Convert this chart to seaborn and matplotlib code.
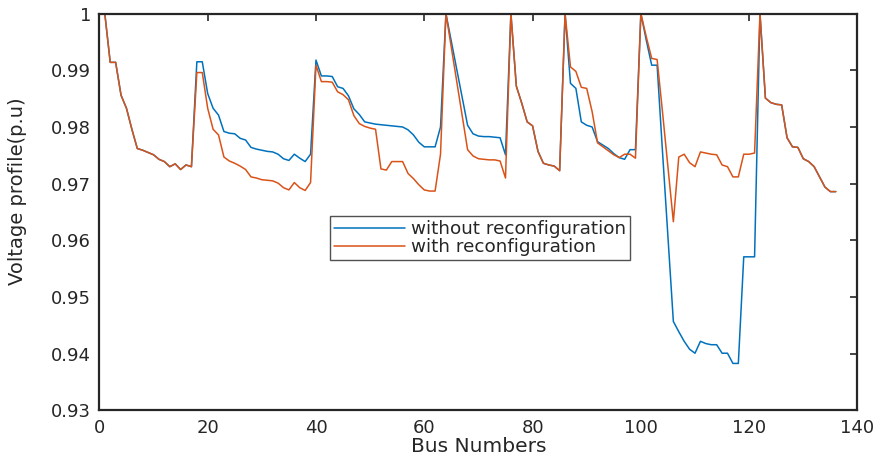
import numpy as np
import pandas as pd
import matplotlib
matplotlib.use("Agg")
import matplotlib.pyplot as plt
import seaborn as sns

# ---------------- data ----------------
bus = list(range(1, 137))

v_without = [
    1.0000, 0.9914, 0.9914, 0.9856, 0.9833, 0.9796, 0.9762, 0.9759, 0.9755, 0.9751,
    0.9743, 0.9739, 0.9730, 0.9735, 0.9725, 0.9733, 0.9730, 0.9915, 0.9915, 0.9859,
    0.9833, 0.9821, 0.9792, 0.9789, 0.9788, 0.9780, 0.9777, 0.9764, 0.9761, 0.9759,
    0.9757, 0.9756, 0.9752, 0.9744, 0.9741, 0.9752, 0.9745, 0.9739, 0.9752, 0.9918,
    0.9890, 0.9890, 0.9889, 0.9871, 0.9868, 0.9855, 0.9832, 0.9822, 0.9809, 0.9807,
    0.9805, 0.9804, 0.9803, 0.9802, 0.9801, 0.9800, 0.9795, 0.9786, 0.9773, 0.9765,
    0.9765, 0.9765, 0.9800, 1.0000, 0.9951, 0.9902, 0.9852, 0.9803, 0.9788, 0.9784,
    0.9783, 0.9783, 0.9782, 0.9781, 0.9751, 1.0000, 0.9872, 0.9842, 0.9809, 0.9802,
    0.9757, 0.9736, 0.9733, 0.9731, 0.9723, 1.0000, 0.9877, 0.9868, 0.9809, 0.9803,
    0.9800, 0.9774, 0.9768, 0.9762, 0.9753, 0.9746, 0.9743, 0.9760, 0.9760, 1.0000,
    0.9953, 0.9909, 0.9909, 0.9756, 0.9608, 0.9457, 0.9439, 0.9422, 0.9408, 0.9401,
    0.9422, 0.9418, 0.9416, 0.9416, 0.9401, 0.9401, 0.9383, 0.9383, 0.9571, 0.9571,
    0.9571, 1.0000, 0.9851, 0.9843, 0.9840, 0.9839, 0.9781, 0.9765, 0.9764, 0.9744,
    0.9739, 0.9730, 0.9712, 0.9694, 0.9686, 0.9686,
]

v_with = [
    1.0000, 0.9914, 0.9914, 0.9856, 0.9833, 0.9796, 0.9762, 0.9759, 0.9755, 0.9751,
    0.9743, 0.9739, 0.9730, 0.9735, 0.9725, 0.9733, 0.9730, 0.9896, 0.9896, 0.9833,
    0.9796, 0.9786, 0.9747, 0.9740, 0.9736, 0.9731, 0.9725, 0.9712, 0.9710, 0.9707,
    0.9706, 0.9705, 0.9701, 0.9693, 0.9689, 0.9702, 0.9693, 0.9688, 0.9702, 0.9909,
    0.9880, 0.9880, 0.9879, 0.9862, 0.9857, 0.9848, 0.9820, 0.9806, 0.9801, 0.9798,
    0.9796, 0.9726, 0.9724, 0.9739, 0.9739, 0.9739, 0.9718, 0.9709, 0.9698, 0.9689,
    0.9687, 0.9687, 0.9752, 1.0000, 0.9940, 0.9880, 0.9820, 0.9760, 0.9749, 0.9744,
    0.9743, 0.9742, 0.9742, 0.9740, 0.9710, 1.0000, 0.9872, 0.9842, 0.9809, 0.9802,
    0.9757, 0.9736, 0.9733, 0.9731, 0.9723, 1.0000, 0.9906, 0.9898, 0.9870, 0.9868,
    0.9827, 0.9772, 0.9765, 0.9758, 0.9751, 0.9746, 0.9752, 0.9752, 0.9745, 1.0000,
    0.9959, 0.9921, 0.9919, 0.9826, 0.9730, 0.9633, 0.9747, 0.9752, 0.9737, 0.9730,
    0.9756, 0.9754, 0.9752, 0.9751, 0.9733, 0.9730, 0.9712, 0.9712, 0.9752, 0.9752,
    0.9754, 1.0000, 0.9851, 0.9843, 0.9840, 0.9839, 0.9781, 0.9765, 0.9764, 0.9744,
    0.9739, 0.9730, 0.9712, 0.9694, 0.9686, 0.9686,
]

series_names = ["without reconfiguration", "with reconfiguration"]
x_ticks = [0, 20, 40, 60, 80, 100, 120, 140]
y_ticks = [0.93, 0.94, 0.95, 0.96, 0.97, 0.98, 0.99, 1.00]
y_tick_labels = ["0.93", "0.94", "0.95", "0.96", "0.97", "0.98", "0.99", "1"]

df = pd.DataFrame({
    "bus": bus + bus,
    "voltage": v_without + v_with,
    "case": [series_names[0]] * len(bus) + [series_names[1]] * len(bus),
})

# ---------------- style ----------------
sns.set_style("white")
plt.rcParams["font.family"] = ["DejaVu Sans"]

blue = "#0072BD"
red = "#D95319"

fig = plt.figure(figsize=(8.78, 4.59), dpi=100)
ax = fig.add_axes([0.1132, 0.1057, 0.8634, 0.8647])

sns.lineplot(data=df, x="bus", y="voltage", hue="case", hue_order=series_names,
             palette=[blue, red], linewidth=1.1, errorbar=None, ax=ax)

ax.set_xlim(0, 140)
ax.set_ylim(0.93, 1.0)
ax.set_xticks(x_ticks)
ax.set_yticks(y_ticks)
ax.set_yticklabels(y_tick_labels)

ax.tick_params(direction="in", top=True, right=True, length=5, width=1.2,
               labelsize=13, colors="#262626", pad=6)
for s in ax.spines.values():
    s.set_visible(True)
    s.set_color("#262626")
    s.set_linewidth(1.6)

ax.set_xlabel("Bus Numbers", fontsize=14.5, color="#262626", labelpad=0)
ax.set_ylabel("Voltage profile(p.u)", fontsize=14, color="#262626")
ax.yaxis.set_label_coords(-0.096, 0.553)

leg = ax.legend(loc="upper left", bbox_to_anchor=(0.304, 0.49), borderaxespad=0,
                fontsize=13.2, frameon=True, fancybox=False, handlelength=3.9,
                handletextpad=0.3, borderpad=0.22, labelspacing=0.0)
leg.get_frame().set_edgecolor("#262626")
leg.get_frame().set_linewidth(1.0)
for line in leg.get_lines():
    line.set_linewidth(1.1)

fig.savefig("out.png", dpi=100)
